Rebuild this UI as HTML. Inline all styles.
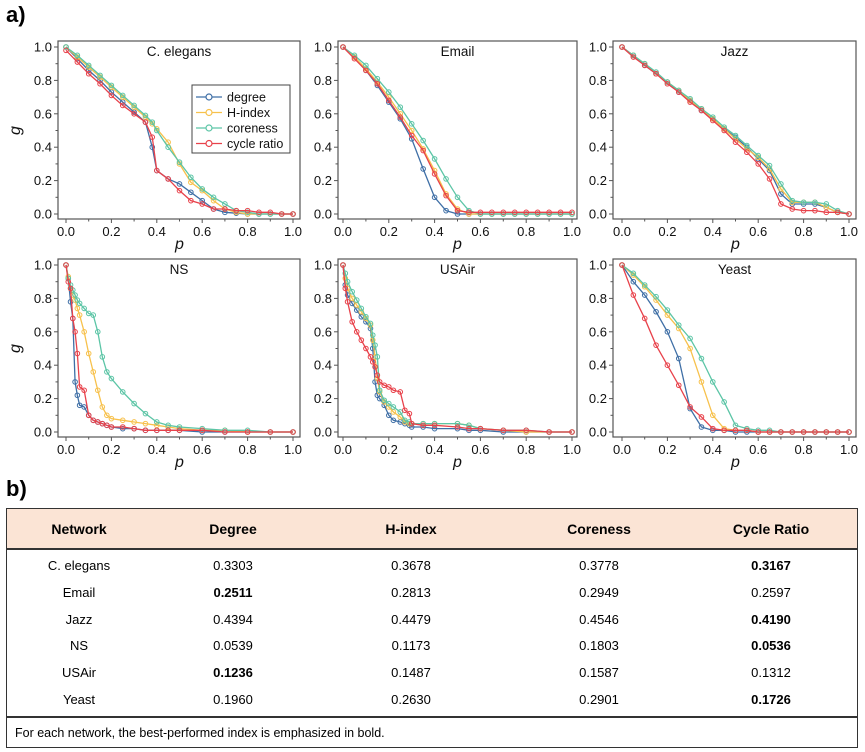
<!DOCTYPE html>
<html><head><meta charset="utf-8">
<style>
body{margin:0;background:#fff;font-family:"Liberation Sans",Arial,sans-serif;}
#wrap{position:relative;width:865px;height:752px;overflow:hidden;}
.lbl{position:absolute;font-weight:bold;font-size:22px;}
#tbl{position:absolute;left:6px;top:508px;width:850px;height:238px;border:1.5px solid #333;}
#hdr{position:absolute;left:0;top:0;width:850px;height:39px;background:#fbe4d5;border-bottom:2px solid #333;}
.c{position:absolute;width:160px;margin-left:-80px;text-align:center;font-size:13px;line-height:16px;}
.h{font-weight:bold;font-size:14px;top:12px;}
#rule{position:absolute;left:0;top:207px;width:850px;border-top:2px solid #333;}
#note{position:absolute;left:8px;top:217px;font-size:12.5px;}
</style></head><body>
<div id="wrap">
<div class="lbl" style="left:6px;top:2px">a)</div>
<div class="lbl" style="left:6px;top:476px">b)</div>
<svg id="chart" width="865" height="470" style="position:absolute;left:0;top:0"></svg>
<div id="tbl">
<div id="hdr">
<div class="c h" style="left:72px">Network</div>
<div class="c h" style="left:226px">Degree</div>
<div class="c h" style="left:404px">H-index</div>
<div class="c h" style="left:592px">Coreness</div>
<div class="c h" style="left:764px">Cycle Ratio</div>
</div>
<div id="rows"></div>
<div id="rule"></div>
<div id="note">For each network, the best-performed index is emphasized in bold.</div>
</div>
</div>
<script>
const tableRows=[["C. elegans","0.3303","0.3678","0.3778","0.3167",4],["Email","0.2511","0.2813","0.2949","0.2597",1],["Jazz","0.4394","0.4479","0.4546","0.4190",4],["NS","0.0539","0.1173","0.1803","0.0536",4],["USAir","0.1236","0.1487","0.1587","0.1312",1],["Yeast","0.1960","0.2630","0.2901","0.1726",4]];
const colX=[72,226,404,592,764];
const rowsEl=document.getElementById('rows');
tableRows.forEach((r,i)=>{
 const row=document.createElement('div');
 
 
 for(let k=0;k<5;k++){
  const d=document.createElement('div');
  d.className='c';
  d.style.left=colX[k]+'px';
  d.style.top=(49+i*26.8)+'px';
  if(k===r[5])d.style.fontWeight='bold';
  d.textContent=r[k];
  row.appendChild(d);
 }
 rowsEl.appendChild(row);
});

const seriesNames=["degree","H-index","coreness","cycle ratio"];
const colors=["#3f6fa6","#f7c14c","#5cc5a6","#e8424b"];
const panelNames=["C. elegans","Email","Jazz","NS","USAir","Yeast"];
const xTicks=[0,0.2,0.4,0.6,0.8,1.0];
const yTicks=[0,0.2,0.4,0.6,0.8,1.0];
const grid21=[0,.05,.1,.15,.2,.25,.3,.35,.4,.45,.5,.55,.6,.65,.7,.75,.8,.85,.9,.95,1];
const pCel=[0,.05,.1,.15,.2,.25,.3,.35,.38,.4,.45,.5,.55,.6,.65,.7,.75,.8,.85,.9,.95,1];
const celDeg=[1,.93,.86,.8,.73,.67,.61,.55,.40,.26,.21,.18,.13,.08,.03,.01,.005,0,0,0,0,0];
const celH=[1,.94,.88,.82,.76,.7,.64,.58,.54,.51,.43,.30,.19,.14,.08,.03,.01,0,0,0,0,0];
const celCore=[1,.95,.89,.83,.77,.71,.65,.59,.55,.50,.40,.31,.22,.15,.10,.06,.02,.01,0,0,0,0];
const celCyc=[.98,.91,.84,.78,.71,.65,.6,.55,.46,.26,.21,.14,.08,.06,.03,.03,.02,.02,.01,.01,0,0];
const emDeg=[1,.94,.86,.77,.67,.57,.45,.27,.1,.02,0,0,0,0,0,0,0,0,0,0,0];
const emH=[1,.94,.87,.79,.7,.6,.5,.39,.26,.12,.03,0,0,0,0,0,0,0,0,0,0];
const emCore=[1,.95,.89,.81,.73,.64,.54,.44,.33,.21,.1,.02,0,0,0,0,0,0,0,0,0];
const emCyc=[1,.93,.86,.78,.68,.58,.47,.38,.24,.11,.02,.01,.01,.01,.01,.01,.01,.01,.01,.01,.01];
const jzDeg=[1,.95,.89,.84,.79,.73,.68,.62,.57,.51,.46,.40,.33,.26,.12,.06,.06,.06,.04,.01,0];
const jzH=[1,.95,.90,.84,.79,.74,.68,.63,.57,.51,.45,.39,.34,.27,.15,.07,.07,.07,.04,.01,0];
const jzCore=[1,.95,.90,.85,.79,.74,.69,.63,.58,.52,.47,.41,.35,.29,.18,.08,.07,.07,.06,.02,0];
const jzCyc=[1,.94,.89,.84,.78,.73,.67,.62,.56,.50,.43,.37,.30,.21,.06,.03,.02,.02,.01,.01,0];
const pNS=[0,.01,.02,.03,.04,.05,.06,.08,.1,.12,.14,.16,.18,.2,.25,.3,.35,.4,.45,.5,.6,.7,.8,.9,1];
const nsDeg=[1,.92,.78,.68,.30,.22,.16,.15,.10,.07,.06,.05,.04,.03,.02,.02,.01,.01,.01,.01,0,0,0,0,0];
const nsH=[1,.93,.86,.82,.79,.74,.70,.60,.47,.36,.25,.15,.10,.08,.07,.06,.05,.04,.03,.02,.01,.01,0,0,0];
const nsCore=[1,.92,.88,.85,.82,.79,.77,.74,.71,.70,.60,.45,.36,.32,.24,.17,.11,.06,.04,.03,.02,.01,.01,0,0];
const nsCyc=[1,.9,.86,.68,.6,.47,.27,.25,.1,.07,.06,.05,.04,.03,.03,.02,.01,.01,.01,.01,.01,0,0,0,0];
const pUS=[0,.01,.02,.04,.06,.08,.1,.12,.13,.14,.15,.16,.18,.2,.22,.25,.27,.29,.3,.35,.4,.5,.55,.6,.7,.8,.9,1];
const usDeg=[1,.88,.82,.77,.73,.69,.66,.62,.5,.3,.22,.2,.16,.1,.07,.06,.05,.04,.03,.03,.02,.02,.01,.01,0,0,0,0];
const usH=[1,.92,.86,.8,.76,.72,.68,.64,.55,.45,.32,.24,.18,.15,.12,.09,.06,.05,.05,.05,.05,.05,.04,.02,.01,0,0,0];
const usCore=[1,.95,.9,.84,.79,.74,.69,.65,.58,.52,.45,.25,.19,.17,.15,.12,.07,.06,.05,.05,.05,.05,.04,.02,.01,.01,0,0];
const usCyc=[1,.86,.78,.66,.6,.55,.5,.45,.42,.39,.34,.3,.28,.27,.25,.24,.13,.11,.05,.04,.04,.03,.02,.02,.01,.01,0,0];
const yDeg=[1,.9,.82,.72,.6,.44,.14,.03,.01,.01,0,0,0,0,0,0,0,0,0,0,0];
const yH=[1,.94,.87,.79,.70,.62,.5,.3,.1,.02,.01,.01,0,0,0,0,0,0,0,0,0];
const yCore=[1,.95,.88,.81,.73,.64,.56,.44,.30,.18,.04,.02,.01,.01,0,0,0,0,0,0,0];
const yCyc=[1,.82,.68,.52,.40,.28,.15,.09,.02,.01,.01,.01,0,0,0,0,0,0,0,0,0];

const panelP=[pCel,grid21,grid21,pNS,pUS,grid21];
const panelG=[[celDeg,celH,celCore,celCyc],[emDeg,emH,emCore,emCyc],[jzDeg,jzH,jzCore,jzCyc],
 [nsDeg,nsH,nsCore,nsCyc],[usDeg,usH,usCore,usCyc],[yDeg,yH,yCore,yCyc]];

const NS="http://www.w3.org/2000/svg";
const svg=document.getElementById('chart');
function mk(tag,attrs,parent){const e=document.createElementNS(NS,tag);for(const k in attrs)e.setAttribute(k,attrs[k]);(parent||svg).appendChild(e);return e;}
const colBox=[[58,300,66,293],[338,577,343,572],[613,856,622,849]];
const rowBox=[[41,219,47,214],[259,437,265,432]];
panelNames.forEach((name,i)=>{
 const c=colBox[i%3], r=rowBox[Math.floor(i/3)];
 const xs=v=>c[2]+v*(c[3]-c[2]);
 const ys=v=>r[3]-v*(r[3]-r[2]);
 const g=mk('g',{});
 
 
 const box=mk('rect',{x:c[0],y:r[0],width:c[1]-c[0],height:r[1]-r[0],fill:'none',stroke:'#555','stroke-width':1.2},g);
 
 
 xTicks.forEach(t=>{
  mk('line',{x1:xs(t),x2:xs(t),y1:r[1],y2:r[1]+4,stroke:'#555'},g);
  const tx=mk('text',{x:xs(t),y:r[1]+17,'text-anchor':'middle','font-size':13,fill:'#111'},g);
  tx.textContent=t.toFixed(1);
  
  
 });
 for(let t=0.1;t<1;t+=0.2)mk('line',{x1:xs(t),x2:xs(t),y1:r[1],y2:r[1]+2.5,stroke:'#555'},g);
 yTicks.forEach(t=>{
  mk('line',{x1:c[0],x2:c[0]-4,y1:ys(t),y2:ys(t),stroke:'#555'},g);
  const tx=mk('text',{x:c[0]-6,y:ys(t)+4.5,'text-anchor':'end','font-size':13,fill:'#111'},g);
  tx.textContent=t.toFixed(1);
  
  
 });
 for(let t=0.1;t<1;t+=0.2)mk('line',{x1:c[0],x2:c[0]-2.5,y1:ys(t),y2:ys(t),stroke:'#555'},g);
 const ti=mk('text',{x:(c[0]+c[1])/2,y:r[0]+15,'text-anchor':'middle','font-size':13.5,fill:'#111'},g);
 ti.textContent=name;
 
 
 const xl=mk('text',{x:(c[2]+c[3])/2,y:r[1]+30,'text-anchor':'middle','font-size':16,'font-style':'italic',fill:'#111'},g);
 xl.textContent='p';
 
 
 if(i%3===0){
  const yl=mk('text',{x:0,y:0,'text-anchor':'middle','font-size':16,'font-style':'italic',fill:'#111',transform:`translate(20,${(r[2]+r[3])/2}) rotate(-90)`},g);
  yl.textContent='g';
  
  
 }
 const P=panelP[i];
 panelG[i].forEach((G,s)=>{
  const sg=mk('g',{},g);
  
  
  mk('polyline',{points:P.map((p,k)=>xs(p)+','+ys(G[k])).join(' '),fill:'none',stroke:colors[s],'stroke-width':1.3},sg);
  P.forEach((p,k)=>{
   const m=mk('circle',{cx:xs(p),cy:ys(G[k]),r:2.3,fill:'none',stroke:colors[s],'stroke-width':1},sg);
   
   
  });
 });
});
const lg=mk('g',{});


mk('rect',{x:192,y:85,width:98,height:68,fill:'#fff',stroke:'#444','stroke-width':1},lg);
seriesNames.forEach((n,s)=>{
 const y=97+s*15.5;
 const e=mk('g',{},lg);
 
 
 mk('line',{x1:196,x2:222,y1:y,y2:y,stroke:colors[s],'stroke-width':1.3},e);
 mk('circle',{cx:209,cy:y,r:3,fill:'#fff',stroke:colors[s],'stroke-width':1.2},e);
 const t=mk('text',{x:227,y:y+4.5,'font-size':12.5,fill:'#111'},e);
 t.textContent=n;
});
</script>
</body></html>
